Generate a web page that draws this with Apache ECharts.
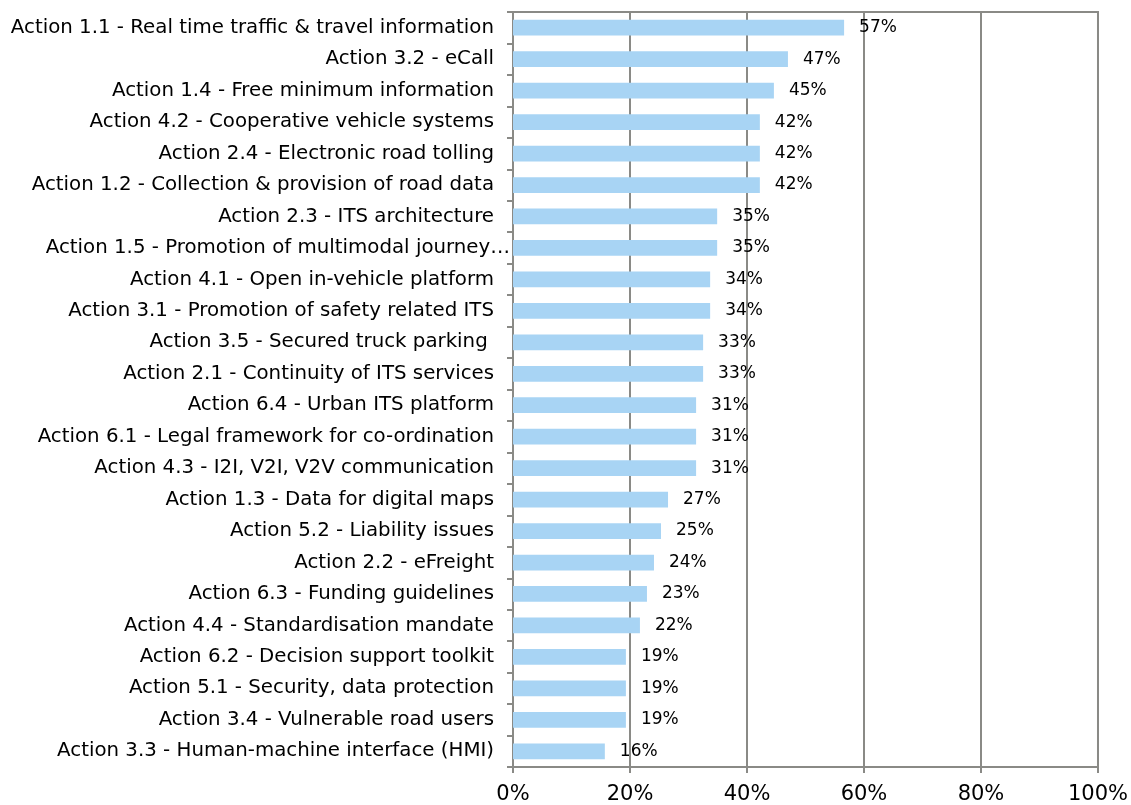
<!doctype html>
<html lang="en">
<head>
    <meta charset="UTF-8">
    <title>ITS Actions</title>
    <script src="https://cdn.jsdelivr.net/npm/echarts@6/dist/echarts.min.js"></script>
    <style>
        html, body { margin: 0; padding: 0; background: #fff; }
    </style>
</head>
<body>
<div id="main" style="width: 1131px; height: 805px"></div>
<script type="text/javascript">
    // categories, top to bottom
    var actions = [
        "Action 1.1 - Real time traffic & travel information",
        "Action 3.2 - eCall",
        "Action 1.4 - Free minimum information",
        "Action 4.2 - Cooperative vehicle systems",
        "Action 2.4 - Electronic road tolling",
        "Action 1.2 - Collection & provision of road data",
        "Action 2.3 - ITS architecture",
        "Action 1.5 - Promotion of multimodal journey…",
        "Action 4.1 - Open in-vehicle platform",
        "Action 3.1 - Promotion of safety related ITS",
        "Action 3.5 - Secured truck parking ",
        "Action 2.1 - Continuity of ITS services",
        "Action 6.4 - Urban ITS platform",
        "Action 6.1 - Legal framework for co-ordination",
        "Action 4.3 - I2I, V2I, V2V communication",
        "Action 1.3 - Data for digital maps",
        "Action 5.2 - Liability issues",
        "Action 2.2 - eFreight",
        "Action 6.3 - Funding guidelines",
        "Action 4.4 - Standardisation mandate",
        "Action 6.2 - Decision support toolkit",
        "Action 5.1 - Security, data protection",
        "Action 3.4 - Vulnerable road users",
        "Action 3.3 - Human-machine interface (HMI)"
    ];
    // share of respondents, %
    var shares = [56.6, 47.0, 44.6, 42.2, 42.2, 42.2, 34.9, 34.9, 33.7, 33.7, 32.5, 32.5,
        31.3, 31.3, 31.3, 26.5, 25.3, 24.1, 22.9, 21.7, 19.3, 19.3, 19.3, 15.7];
    var xTicks = [0, 20, 40, 60, 80, 100];

    var gray = "#8a8a86";
    var catData = actions.map(function (a, i) {
        // the truncated label in the original sits closer to the axis
        if (i === 7) return { value: a, textStyle: { padding: [0, -16, 0, 0] } };
        return a;
    });

    var mychart = echarts.init(document.getElementById("main"));
    var option = {
        animation: false,
        textStyle: { fontFamily: "DejaVu Sans" },
        grid: {
            left: 513, right: 32, top: 12, bottom: 38,
            show: true, borderColor: gray, borderWidth: 2
        },
        xAxis: {
            type: "value",
            min: xTicks[0],
            max: xTicks[xTicks.length - 1],
            interval: 20,
            axisLine: { show: true, lineStyle: { color: gray, width: 2 } },
            axisTick: { show: true, length: 6, lineStyle: { color: gray, width: 2 } },
            splitLine: { show: true, lineStyle: { color: gray, width: 2 } },
            axisLabel: {
                color: "#000", fontSize: 21, margin: 17,
                formatter: function (v) { return v + "%"; }
            }
        },
        yAxis: {
            type: "category",
            inverse: true,
            data: catData,
            axisLine: { show: true, lineStyle: { color: gray, width: 2 } },
            axisTick: { show: true, length: 6, lineStyle: { color: gray, width: 2 } },
            axisLabel: { color: "#000", fontSize: 19.8, margin: 19 }
        },
        series: [{
            type: "bar",
            data: shares,
            barWidth: "50%",
            itemStyle: { color: "#a8d4f4" },
            label: {
                show: true,
                position: "right",
                distance: 15,
                color: "#000",
                fontSize: 17,
                formatter: function (p) { return Math.round(p.value) + "%"; }
            }
        }]
    };
    mychart.setOption(option);
</script>
</body>
</html>
